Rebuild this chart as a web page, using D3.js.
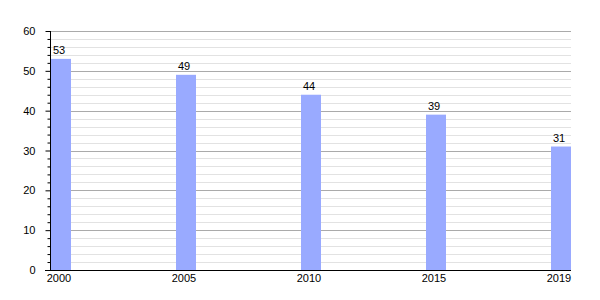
<!DOCTYPE html>
<html>
<head>
<meta charset="utf-8">
<script src="https://cdn.jsdelivr.net/npm/d3@7"></script>
<style>
  body { margin: 0; background: #fff; }
  text { font-family: "Liberation Sans", Arial, sans-serif; font-size: 11px; fill: #000; }
</style>
</head>
<body>
<svg id="chart" width="600" height="300"></svg>
<script>
var years = ["2000", "2005", "2010", "2015", "2019"];
var values = [53, 49, 44, 39, 31];
var yTicks = [0, 10, 20, 30, 40, 50, 60];

var svg = d3.select("#chart");
var plotLeft = 51, plotRight = 571, plotTop = 31, plotBottom = 270;
var barW = 20;

var x = d3.scalePoint()
    .domain(years)
    .range([plotLeft, plotRight - barW]);

var y = d3.scaleLinear()
    .domain([0, 60])
    .range([plotBottom, plotTop]);

// minor grid every 2
var minor = d3.range(2, 61, 2).filter(function (d) { return d % 10 != 0; });
svg.append("g").selectAll("line")
    .data(minor)
    .enter().append("line")
    .attr("x1", plotLeft).attr("x2", plotRight)
    .attr("y1", function (d) { return Math.round(y(d)) + 0.5; })
    .attr("y2", function (d) { return Math.round(y(d)) + 0.5; })
    .attr("stroke", "#e2e2e2");

svg.append("g").selectAll("line")
    .data(yTicks.slice(1))
    .enter().append("line")
    .attr("x1", plotLeft).attr("x2", plotRight)
    .attr("y1", function (d) { return Math.round(y(d)) + 0.5; })
    .attr("y2", function (d) { return Math.round(y(d)) + 0.5; })
    .attr("stroke", "#aaaaaa");

// bars
svg.append("g").selectAll("rect")
    .data(values)
    .enter().append("rect")
    .attr("x", function (d, i) { return x(years[i]); })
    .attr("y", function (d) { return y(d); })
    .attr("width", barW)
    .attr("height", function (d) { return plotBottom - y(d); })
    .attr("fill", "#99aaff");

svg.append("g").selectAll("text")
    .data(values)
    .enter().append("text")
    .attr("x", function (d, i) { return x(years[i]) + 8; })
    .attr("y", function (d) { return y(d) - 5; })
    .attr("text-anchor", "middle")
    .text(function (d) { return d; });

// y axis
var yAxis = svg.append("g")
    .attr("transform", "translate(" + (plotLeft - 0.5) + ",0)")
    .call(d3.axisLeft(y).tickValues(yTicks).tickSize(5).tickPadding(10));
yAxis.select(".domain").attr("d", "M0," + plotTop + "V" + plotBottom);
yAxis.selectAll("text").style("font-size", "11px").style("font-family", "Liberation Sans, Arial, sans-serif");

svg.append("g")
    .attr("transform", "translate(" + (plotLeft - 0.5) + ",0)")
    .call(d3.axisLeft(y).tickValues(minor).tickSize(3).tickFormat(""))
    .select(".domain").remove();

// x axis
svg.append("line")
    .attr("x1", plotLeft - 6).attr("x2", plotRight)
    .attr("y1", plotBottom + 0.5).attr("y2", plotBottom + 0.5)
    .attr("stroke", "#000");

svg.append("g").selectAll("text")
    .data(years)
    .enter().append("text")
    .attr("x", function (d) { return x(d) + 8; })
    .attr("y", plotBottom + 12)
    .attr("text-anchor", "middle")
    .text(function (d) { return d; });
</script>
</body>
</html>
